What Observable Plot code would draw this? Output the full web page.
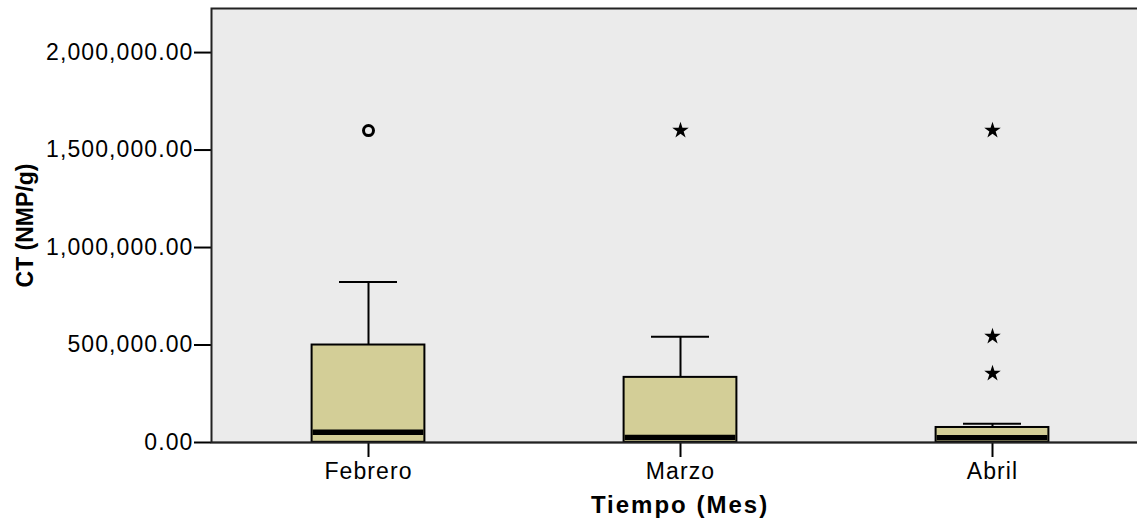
<!DOCTYPE html>
<html>
<head>
<meta charset="utf-8">
<script src="https://cdn.jsdelivr.net/npm/d3@7"></script>
<script src="https://cdn.jsdelivr.net/npm/@observablehq/plot@0.6"></script>
<style>
  html, body { margin: 0; padding: 0; background: #fff; overflow: hidden; }
  #chart { width: 1137px; height: 519px; overflow: hidden; }
  #chart svg { max-width: none !important; display: block; }
</style>
</head>
<body>
<div id="chart"></div>
<script>
// Data
const months = ["Febrero", "Marzo", "Abril"];
const q1 = [1000, 0, 0];
const median = [52000, 26000, 25000];
const q3 = [500000, 334000, 77000];
const whiskerHigh = [823000, 542000, 96000];
const circleOutliers = [{month: "Febrero", value: 1600000}];
const starOutliers = [
  {month: "Marzo", value: 1600000},
  {month: "Abril", value: 1600000},
  {month: "Abril", value: 544000},
  {month: "Abril", value: 354000}
];
const yTicks = [0, 500000, 1000000, 1500000, 2000000];

const boxes = months.map((m, i) => ({month: m, q1: q1[i], median: median[i], q3: q3[i], hi: whiskerHigh[i]}));

const W = 1148, boxInset = 99.6, capInset = 127;

const chart = Plot.plot({
  width: W,
  height: 519,
  marginTop: 8,
  marginBottom: 77,
  marginLeft: 211,
  marginRight: 0,
  style: {fontFamily: "'Liberation Sans', Arial, sans-serif", fontSize: "23px", color: "#000", background: "#fff", maxWidth: "none"},
  x: {type: "band", domain: months, padding: 0, label: null, tickSize: 15, tickPadding: 5},
  y: {domain: [0, 2226000], ticks: yTicks, tickFormat: d3.format(",.2f"), label: null, tickSize: 17, tickPadding: 1},
  marks: [
    Plot.frame({fill: "#ebebeb"}),
    Plot.ruleX(boxes, {x: "month", y1: "q3", y2: "hi", stroke: "#000", strokeWidth: 2}),
    Plot.tickY(boxes, {x: "month", y: "hi", stroke: "#000", strokeWidth: 2, insetLeft: capInset, insetRight: capInset}),
    Plot.barY(boxes, {x: "month", y1: "q1", y2: "q3", fill: "#d3ce97", stroke: "#000", strokeWidth: 2, insetLeft: boxInset, insetRight: boxInset}),
    Plot.tickY(boxes, {x: "month", y: "median", stroke: "#000", strokeWidth: 5.5, insetLeft: boxInset + 1, insetRight: boxInset + 1}),
    Plot.dot(circleOutliers, {x: "month", y: "value", r: 5, stroke: "#000", strokeWidth: 3, fill: "none"}),
    Plot.dot(starOutliers, {x: "month", y: "value", symbol: "star", r: 5.2, fill: "#000", stroke: "none"}),
    Plot.ruleY([0], {stroke: "#000", strokeWidth: 1.5}),
    Plot.frame({stroke: "#222", strokeWidth: 2, fill: "none"}),
    Plot.text(["CT (NMP/g)"], {frameAnchor: "left", dx: -186, rotate: -90, text: d => d, fontWeight: "bold", fontSize: 23, textAnchor: "middle", lineAnchor: "middle"}),
    Plot.text(["Tiempo (Mes)"], {frameAnchor: "bottom", dy: 63, text: d => d, fontWeight: "bold", fontSize: 24, textAnchor: "middle", lineAnchor: "middle"})
  ]
});

chart.style.maxWidth = "none";
d3.select(chart).selectAll("[aria-label='x-axis tick label'] text, [aria-label='y-axis tick label'] text")
  .style("letter-spacing", "1.1px").attr("fill", "#000");
d3.select(chart).selectAll("[aria-label='text'] text")
  .filter(function() { return this.textContent === "Tiempo (Mes)"; })
  .style("letter-spacing", "2px");
d3.select(chart).selectAll("[aria-label='y-axis tick'] path, [aria-label='x-axis tick'] path")
  .attr("stroke-width", 2).attr("stroke", "#000");

document.getElementById("chart").appendChild(chart);
</script>
</body>
</html>
